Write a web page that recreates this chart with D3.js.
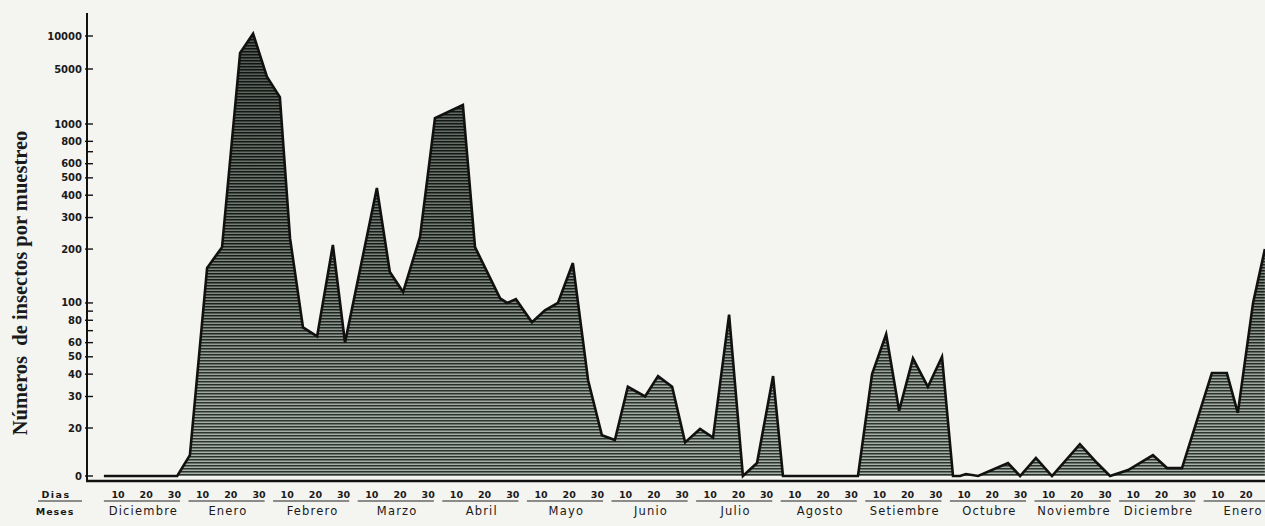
<!DOCTYPE html>
<html><head><meta charset="utf-8">
<script src="https://cdn.jsdelivr.net/npm/d3@7"></script>
<style>html,body{margin:0;padding:0;background:#f4f4f1;} svg{display:block}</style>
</head><body>
<svg id="c" width="1265" height="526"></svg>
<script>
// Day index counted from 1 December (month index * 30 + day)
const dias = [5, 31, 35.5, 41.6, 46.9, 53.3, 57.9, 62.8, 67.4, 71.0, 75.6, 80.6, 86.2, 90.5,
  101.8, 106.4, 111.1, 117.1, 122.4, 132.3, 136.6, 145.5, 148.0, 151.1, 156.8, 161.4, 166.0,
  171.3, 176.7, 181.6, 186.2, 190.8, 196.9, 201.5, 206.5, 211.1, 216.4, 221.0, 226.7, 231.6,
  236.6, 242.3, 245.8, 272.4, 277.4, 282.4, 287.0, 291.9, 297.2, 302.2, 306.1, 308.6, 310.7,
  315.0, 325.6, 329.9, 335.5, 341.2, 351.1, 357.2, 361.8, 368.2, 377.0, 382.0, 387.3, 397.9,
  403.2, 407.1, 412.5, 416.7];
const insectos = [0, 0, 8.7, 157, 205, 7000, 10500, 4000, 2200, 230, 73, 65, 211, 60,
  439, 149, 115, 234, 1190, 1740, 205, 106, 100, 105, 78, 91, 100,
  167, 37, 17, 15, 34, 30, 39, 34, 14, 19.6, 16, 86, 0,
  5.4, 39, 0, 0, 40, 67, 25, 49, 34, 50, 0, 0, 0.8,
  0, 5.4, 0, 7.5, 0, 13.3, 5.4, 0, 2.5, 8.7, 3.3, 3.3, 40.6,
  40.6, 24.3, 100, 200];
const meses = ["Diciembre","Enero","Febrero","Marzo","Abril","Mayo","Junio","Julio","Agosto",
  "Setiembre","Octubre","Noviembre","Diciembre","Enero"];
const diasTicks = [10, 20, 30];
const yTicks = [0, 20, 30, 40, 50, 60, 80, 100, 200, 300, 400, 500, 600, 800, 1000, 5000, 10000];
const yMinor = [70, 90, 700];

const W = 1265, H = 526;
const svg = d3.select("#c");
const x = d3.scaleLinear().domain([0, 400]).range([89.8, 1217.8]);
const yLog = d3.scaleLog().domain([20, 1000, 5000, 10000]).range([428, 124, 69, 36]);
const yLin = d3.scaleLinear().domain([0, 20]).range([476, 428]);
const y = v => v >= 20 ? yLog(v) : yLin(v);

const data = dias.map((d, i) => ({d, v: insectos[i]}));

const defs = svg.append("defs");
const pat = defs.append("pattern").attr("id", "rayas").attr("patternUnits", "userSpaceOnUse")
  .attr("width", 8).attr("height", 3);
pat.append("rect").attr("width", 8).attr("height", 3).attr("fill", "#a3ada4");
pat.append("rect").attr("width", 8).attr("height", 1.5).attr("fill", "#1e2721");
const grad = defs.append("linearGradient").attr("id", "sombra").attr("gradientUnits", "userSpaceOnUse")
  .attr("x1", 0).attr("y1", 30).attr("x2", 0).attr("y2", 476);
grad.append("stop").attr("offset", 0).attr("stop-color", "#000").attr("stop-opacity", 0.5);
grad.append("stop").attr("offset", 0.6).attr("stop-color", "#000").attr("stop-opacity", 0.2);
grad.append("stop").attr("offset", 1).attr("stop-color", "#fff").attr("stop-opacity", 0.05);

const area = d3.area().x(d => x(d.d)).y0(yLin(0)).y1(d => y(d.v));
const line = d3.line().x(d => x(d.d)).y(d => y(d.v));

svg.append("path").datum(data).attr("d", area).attr("fill", "url(#rayas)");
svg.append("path").datum(data).attr("d", area).attr("fill", "url(#sombra)");
svg.append("path").datum(data).attr("d", line).attr("fill", "none")
  .attr("stroke", "#111").attr("stroke-width", 2.6).attr("stroke-linejoin", "miter");

// axes lines
svg.append("line").attr("x1", 87).attr("x2", 87).attr("y1", 13).attr("y2", 482)
  .attr("stroke", "#111").attr("stroke-width", 2);
svg.append("line").attr("x1", 86).attr("x2", W).attr("y1", 481).attr("y2", 481)
  .attr("stroke", "#111").attr("stroke-width", 2.5);

// y ticks
const gy = svg.append("g");
yTicks.forEach(t => {
  const yy = y(t);
  gy.append("line").attr("x1", 85).attr("x2", 93).attr("y1", yy).attr("y2", yy)
    .attr("stroke", "#111").attr("stroke-width", 1.4);
  gy.append("text").attr("x", 82).attr("y", yy).attr("dy", "0.35em").attr("text-anchor", "end")
    .attr("font-family", "DejaVu Sans").attr("font-weight", "bold").attr("font-size", 10)
    .attr("fill", "#1a1a1a").text(t);
});
yMinor.forEach(t => {
  const yy = y(t);
  gy.append("line").attr("x1", 87).attr("x2", 93).attr("y1", yy).attr("y2", yy)
    .attr("stroke", "#111").attr("stroke-width", 1.4);
});

// y label
svg.append("text").attr("transform", "translate(27,283) rotate(-90)").attr("text-anchor", "middle")
  .attr("font-family", "Liberation Serif").attr("font-weight", "bold").attr("font-size", 20.5)
  .attr("fill", "#1a1a1a").attr("xml:space", "preserve").text("Números  de insectos por muestreo");

// x labels
const gx = svg.append("g").attr("font-family", "DejaVu Sans").attr("fill", "#1a1a1a");
meses.forEach((m, i) => {
  diasTicks.forEach(dd => {
    const xx = x(i * 30 + dd);
    if (xx + 5 < W) {
      gx.append("text").attr("x", xx).attr("y", 498).attr("text-anchor", "middle")
        .attr("font-size", 9.5).attr("font-weight", "bold").text(dd);
    }
  });
  gx.append("line").attr("x1", x(i * 30 + 5)).attr("x2", Math.min(W, x(i * 30 + 32)))
    .attr("y1", 501).attr("y2", 501).attr("stroke", "#222").attr("stroke-width", 1);
  gx.append("text").attr("x", x(i * 30 + 19)).attr("y", 515).attr("text-anchor", "middle")
    .attr("font-size", 11.5).attr("letter-spacing", 1.2).text(m);
});
gx.append("text").attr("x", 56).attr("y", 498).attr("text-anchor", "middle")
  .attr("font-size", 9.5).attr("font-weight", "bold").attr("letter-spacing", 1.5).text("Dias");
gx.append("line").attr("x1", 38).attr("x2", 82).attr("y1", 501).attr("y2", 501)
  .attr("stroke", "#222").attr("stroke-width", 1);
gx.append("text").attr("x", 55).attr("y", 515).attr("text-anchor", "middle")
  .attr("font-size", 9.5).attr("font-weight", "bold").attr("letter-spacing", 1).text("Meses");
</script>
</body></html>
